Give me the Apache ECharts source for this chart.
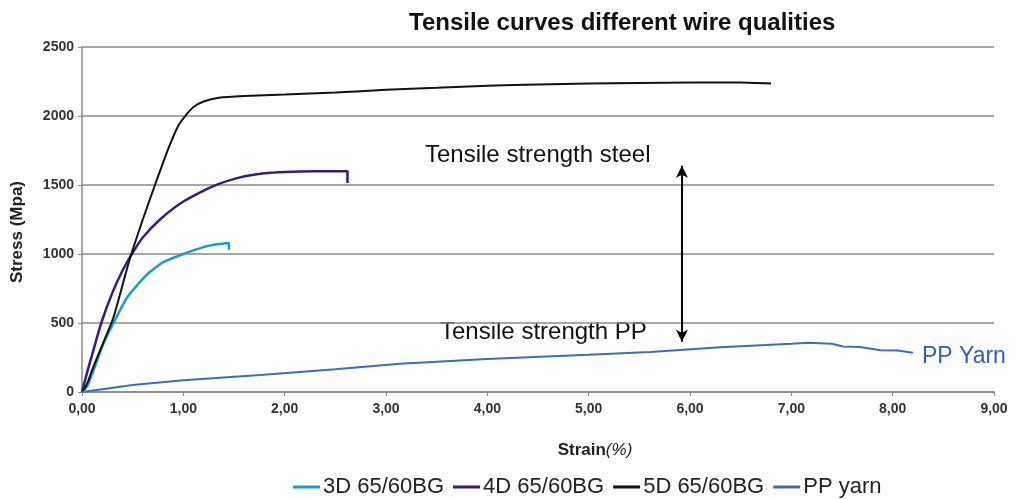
<!DOCTYPE html>
<html>
<head>
<meta charset="UTF-8">
<script src="https://cdn.jsdelivr.net/npm/echarts@6/dist/echarts.min.js"></script>
<style>
  html, body { margin: 0; padding: 0; background: #fff; }
  #chart { width: 1016px; height: 499px; }
</style>
</head>
<body>
<div id="chart"></div>
<script>
// strain (%) , stress (MPa) pairs
var wire3D = [[0,0],[0.05,40],[0.1,130],[0.2,330],[0.31,500],[0.45,690],[0.64,850],[0.8,940],[1.0,1000],[1.2,1050],[1.35,1072],[1.45,1080],[1.45,1030]];
var wire4D = [[0,0],[0.05,140],[0.1,270],[0.19,500],[0.3,720],[0.4,880],[0.5,1010],[0.6,1120],[0.77,1250],[1.0,1380],[1.29,1490],[1.56,1555],[1.8,1585],[2.0,1595],[2.3,1600],[2.62,1600],[2.62,1515]];
var wire5D = [[0,0],[0.05,60],[0.1,160],[0.2,340],[0.31,540],[0.47,960],[0.6,1250],[0.72,1500],[0.85,1760],[0.95,1930],[1.03,2010],[1.1,2065],[1.2,2105],[1.35,2132],[1.6,2145],[2.0,2155],[2.5,2170],[3.0,2190],[3.5,2205],[4.0,2220],[4.5,2228],[5.0,2235],[5.5,2240],[6.0,2242],[6.5,2242],[6.8,2235]];
var ppYarn = [[0,0],[0.2,20],[0.5,50],[1.0,85],[1.76,123],[2.5,165],[3.14,205],[4.0,240],[5.0,270],[5.61,290],[6.3,325],[7.0,350],[7.17,357],[7.4,350],[7.51,330],[7.68,326],[7.88,302],[8.05,300],[8.2,285]];

var seriesNames = ['3D 65/60BG', '4D 65/60BG', '5D 65/60BG', 'PP yarn'];
var seriesColors = ['#1899d8', '#3b1a7a', '#111111', '#3a6cc6'];

// double arrow between steel strength and PP strength
var arrowX = 5.92;
var arrowFrom = 1640;
var arrowTo = 365;

var chart = echarts.init(document.getElementById('chart'));

var option = {
  animation: false,
  title: {
    text: 'Tensile curves different wire qualities',
    left: 404,
    top: 6,
    textStyle: { fontFamily: 'Liberation Sans', fontSize: 24, fontWeight: 'bold', color: '#111' }
  },
  legend: {
    data: seriesNames,
    left: 288,
    top: 471,
    icon: 'rect',
    itemWidth: 27,
    itemHeight: 3,
    itemGap: 9,
    textStyle: { fontFamily: 'Liberation Sans', fontSize: 22, color: '#222', padding: [0, 0, 0, -2] }
  },
  grid: { left: 82, right: 22, top: 47, bottom: 107 },
  xAxis: {
    type: 'value',
    min: 0,
    max: 9,
    interval: 1,
    name: '{b|Strain}{i|(%)}',
    nameLocation: 'middle',
    nameGap: 50,
    nameTextStyle: {
      padding: [0, 0, 0, 114],
      rich: {
        b: { fontFamily: 'Liberation Sans', fontSize: 17, fontWeight: 'bold', color: '#222' },
        i: { fontFamily: 'Liberation Sans', fontSize: 17, fontStyle: 'italic', color: '#222' }
      }
    },
    axisLine: { lineStyle: { color: '#888', width: 1.5 } },
    axisTick: { show: true, length: 4, lineStyle: { color: '#888' } },
    axisLabel: {
      fontFamily: 'Liberation Sans', fontSize: 14, color: '#333', fontWeight: 'bold', margin: 10,
      formatter: function (v) { return v.toFixed(2).replace('.', ','); }
    },
    splitLine: { show: false }
  },
  yAxis: {
    type: 'value',
    min: 0,
    max: 2500,
    interval: 500,
    name: 'Stress (Mpa)',
    nameLocation: 'middle',
    nameGap: 56,
    nameTextStyle: { fontFamily: 'Liberation Sans', fontSize: 17, fontWeight: 'bold', color: '#222', padding: [0, 25, 0, 0] },
    axisLine: { show: true, lineStyle: { color: '#888', width: 1.5 } },
    axisTick: { show: true, length: 4, lineStyle: { color: '#888' } },
    axisLabel: {
      fontFamily: 'Liberation Sans', fontSize: 14, color: '#333', fontWeight: 'bold', margin: 8,
      formatter: function (v) { return String(v); }
    },
    splitLine: { lineStyle: { color: '#8a8a8a', width: 1.5 } }
  },
  series: [
    {
      name: seriesNames[0], type: 'line', data: wire3D, showSymbol: false, smooth: 0.2,
      lineStyle: { width: 2.5, color: seriesColors[0] }, itemStyle: { color: seriesColors[0] }
    },
    {
      name: seriesNames[1], type: 'line', data: wire4D, showSymbol: false, smooth: 0.2,
      lineStyle: { width: 2.5, color: seriesColors[1] }, itemStyle: { color: seriesColors[1] }
    },
    {
      name: seriesNames[2], type: 'line', data: wire5D, showSymbol: false, smooth: 0.2,
      lineStyle: { width: 2, color: seriesColors[2] }, itemStyle: { color: seriesColors[2] },
      markLine: {
        silent: true,
        symbol: ['arrow', 'arrow'],
        symbolSize: [9, 12],
        label: { show: false },
        lineStyle: { color: '#000', width: 2, type: 'solid' },
        data: [[{ coord: [arrowX, arrowFrom] }, { coord: [arrowX, arrowTo] }]]
      }
    },
    {
      name: seriesNames[3], type: 'line', data: ppYarn, showSymbol: false,
      lineStyle: { width: 2, color: seriesColors[3] }, itemStyle: { color: seriesColors[3] },
      endLabel: {
        show: true,
        formatter: 'PP Yarn',
        distance: 9,
        fontFamily: 'Liberation Sans',
        fontSize: 23,
        color: '#2e5fbf',
        offset: [0, 4]
      }
    }
  ],
  graphic: [
    {
      type: 'text', left: 425, top: 143,
      style: { text: 'Tensile strength steel', fontFamily: 'Liberation Sans', fontSize: 24, fill: '#111' }
    },
    {
      type: 'text', left: 440, top: 320,
      style: { text: 'Tensile strength PP', fontFamily: 'Liberation Sans', fontSize: 24, fill: '#111' }
    }
  ]
};

chart.setOption(option);
</script>
</body>
</html>
